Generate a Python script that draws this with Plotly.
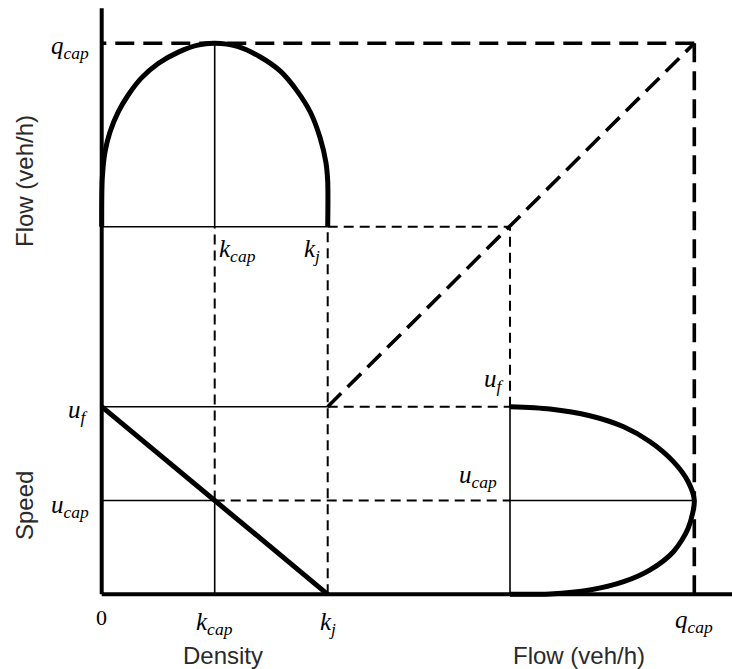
import plotly.graph_objects as go

# ---------------- data (conceptual values) ----------------
k_cap = 60        # density at capacity (veh/km)
k_j = 120         # jam density
u_f = 100         # free-flow speed (km/h)
u_cap = 50        # speed at capacity
q_cap = 3000      # capacity flow (veh/h)

# flow-density curve (top-left panel)
fd_k = [0, 0.3, 1.8, 4.4, 8.8, 14, 21, 30, 41, 51, 60, 72, 84, 95, 104, 111, 116, 119, 120, 120]
fd_q = [0, 790, 1230, 1550, 1880, 2150, 2430, 2670, 2860, 2970, 3000, 2950, 2780, 2540, 2210,
        1860, 1450, 1060, 740, 0]

# speed-density line (bottom-left panel)
sd_k = [0, 120]
sd_u = [100, 0]

# speed-flow curve (bottom-right panel)
sf_q = [0, 650, 1300, 1850, 2280, 2660, 2900, 3000, 2900, 2660, 2280, 1850, 1300, 650, 0]
sf_u = [100, 98.8, 95.2, 89.3, 81.3, 70.7, 60, 50, 35.2, 22.7, 13, 6.7, 2.3, 0.2, 0]

# texts
title_flow = "Flow (veh/h)"
title_speed = "Speed"
title_density = "Density"

# ---------------- layout constants (canvas geometry) ----------------
W, H = 732, 669
OX, OY = 101.7, 594.3          # pixel position of the common origin
KX = 226.0 / 120               # density scale
UY = 187.6 / 100               # speed scale
QY0, QY = 367.6, 183.4 / 3000  # flow scale on the vertical (top panel)
QX0, QX = 408.3, 184.3 / 3000  # flow scale on the horizontal (right panel)
AXIS_TOP = 586.0


def kx(k):
    return k * KX


def uy(u):
    return u * UY


def qy(q):
    return QY0 + q * QY


def qx(q):
    return QX0 + q * QX


fig = go.Figure()


def seg(xs, ys, width, dash="solid"):
    fig.add_trace(go.Scatter(x=xs, y=ys, mode="lines", hoverinfo="skip",
                             line=dict(color="black", width=width, dash=dash)))


THIN = 1.6
THIN_DASH = "10px,6px"
THICK_DASH = "19px,9px"

# thin solid guide lines
seg([kx(0), kx(k_j)], [qy(0), qy(0)], THIN)
seg([kx(k_cap), kx(k_cap)], [qy(0), qy(q_cap)], THIN)
seg([kx(0), kx(k_j)], [uy(u_f), uy(u_f)], THIN)
seg([kx(0), kx(k_cap)], [uy(u_cap), uy(u_cap)], THIN)
seg([kx(k_cap), kx(k_cap)], [uy(0), uy(u_cap)], THIN)
seg([qx(0), qx(0)], [uy(0), uy(u_f)], THIN)
seg([qx(0), qx(q_cap)], [uy(u_cap), uy(u_cap)], THIN)

# thin dashed projection lines
seg([kx(k_cap), kx(k_cap)], [uy(u_cap), qy(0)], 2, THIN_DASH)
seg([kx(k_j), kx(k_j)], [uy(0), qy(0)], 2, THIN_DASH)
seg([kx(k_j), qx(0)], [qy(0), qy(0)], 2, THIN_DASH)
seg([qx(0), qx(0)], [uy(u_f), qy(0)], 2, THIN_DASH)
seg([kx(k_j), qx(0)], [uy(u_f), uy(u_f)], 2, THIN_DASH)
seg([kx(k_cap), qx(0)], [uy(u_cap), uy(u_cap)], 2, THIN_DASH)

# thick dashed lines
seg([qx(q_cap), kx(0)], [qy(q_cap), qy(q_cap)], 3.6, THICK_DASH)
seg([qx(q_cap), qx(q_cap)], [qy(q_cap), uy(0)], 3.6, THICK_DASH)
seg([kx(k_j), qx(q_cap)], [uy(u_f), qy(q_cap)], 3.6, THICK_DASH)

# axes
seg([0, 0], [0, AXIS_TOP], 4)
seg([0, W - OX], [0, 0], 4)

# curves
fig.add_trace(go.Scatter(x=[kx(k) for k in fd_k], y=[qy(q) for q in fd_q], mode="lines",
                         line=dict(color="black", width=5, shape="spline", smoothing=0.8),
                         hoverinfo="skip"))
fig.add_trace(go.Scatter(x=[kx(k) for k in sd_k], y=[uy(u) for u in sd_u], mode="lines",
                         line=dict(color="black", width=5), hoverinfo="skip"))
fig.add_trace(go.Scatter(x=[qx(q) for q in sf_q], y=[uy(u) for u in sf_u], mode="lines",
                         line=dict(color="black", width=5, shape="spline", smoothing=0.8),
                         hoverinfo="skip"))

# ---------------- labels ----------------
MATH = dict(family="Liberation Serif", size=25, color="black")
SANS = dict(family="Liberation Sans", size=24, color="#2a2a2a")


def sym(base, sub):
    return f"<i>{base}<sub>{sub}</sub></i>"


ann = []


def label(text, x, y, xanchor, yanchor, xshift=0, yshift=0, font=MATH, angle=0):
    ann.append(dict(text=text, x=x, y=y, xref="x", yref="y", showarrow=False,
                    xanchor=xanchor, yanchor=yanchor, xshift=xshift, yshift=yshift,
                    font=font, textangle=angle))


label(sym("q", "cap"), kx(0), qy(q_cap), "right", "middle", -11, -4)
label(sym("u", "f"), kx(0), uy(u_f), "right", "middle", -12, -5)
label(sym("u", "cap"), kx(0), uy(u_cap), "right", "middle", -11, -6)
label(sym("k", "cap"), kx(k_cap), qy(0), "left", "top", 2, -6)
label(sym("k", "j"), kx(k_j), qy(0), "right", "top", -6, -6)
label("0", kx(0), 0, "center", "top", 0, -9, dict(family="Liberation Serif", size=22, color="black"))
label(sym("k", "cap"), kx(k_cap), 0, "center", "top", 0, -12)
label(sym("k", "j"), kx(k_j), 0, "center", "top", 0, -12)
label(sym("q", "cap"), qx(q_cap), 0, "center", "top", 0, -10)
label(sym("u", "f"), qx(0), uy(u_f), "right", "bottom", -4, 9)
label(sym("u", "cap"), qx(0), uy(u_cap), "right", "bottom", -11, 7)

# axis titles
label(title_flow, 24 - OX, 594.3 - 181, "center", "middle", font=SANS, angle=-90)
label(title_speed, 24 - OX, 594.3 - 506, "center", "middle", font=SANS, angle=-90)
label(title_density, 223.3 - OX, 594.3 - 655, "center", "middle", font=SANS)
label(title_flow, 579 - OX, 594.3 - 655, "center", "middle", font=SANS)

fig.update_layout(
    width=W, height=H,
    margin=dict(l=0, r=0, t=0, b=0, pad=0),
    paper_bgcolor="white", plot_bgcolor="white",
    showlegend=False,
    annotations=ann,
    xaxis=dict(range=[-OX, W - OX], visible=False, fixedrange=True),
    yaxis=dict(range=[-(H - OY), OY], visible=False, fixedrange=True),
)

fig.write_html("out.html")
